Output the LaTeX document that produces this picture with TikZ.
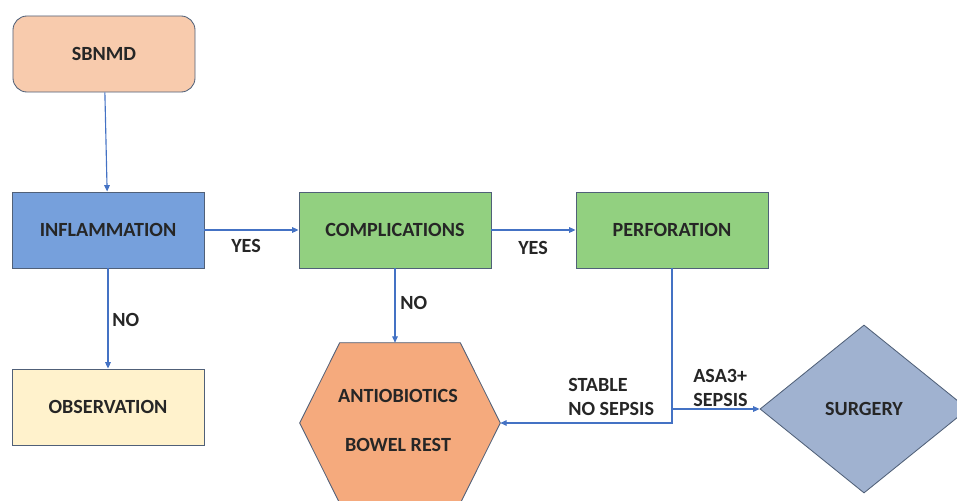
\documentclass[tikz,border=0pt]{standalone}
\usepackage{fontspec}
\setmainfont{Carlito}
\usepackage{tikz}
\usetikzlibrary{positioning,arrows.meta,shapes.geometric}
\usepackage{xcolor}

\definecolor{peach}{RGB}{248,203,173}
\definecolor{inflblue}{RGB}{118,160,220}
\definecolor{compgreen}{RGB}{146,208,128}
\definecolor{obscream}{RGB}{255,242,204}
\definecolor{hexorange}{RGB}{245,170,125}
\definecolor{surgblue}{RGB}{160,178,208}
\definecolor{linkblue}{RGB}{68,114,196}
\definecolor{edgegray}{RGB}{80,96,120}

\begin{document}
\begin{tikzpicture}[
    x=0.025cm, y=-0.025cm,
    every node/.style={font=\fontsize{14.3}{17}\selectfont\bfseries, text=black!85},
    box/.style={draw=edgegray, line width=0.6pt, minimum width=4.8cm, minimum height=1.9cm, align=center},
    arr/.style={-{Triangle[length=1.6mm,width=1.4mm]}, draw=linkblue, line width=0.8pt},
    lbl/.style={align=left, inner sep=0pt, anchor=west}
]
\useasboundingbox (0,0) rectangle (957,500);

\node[box, fill=peach, rounded corners=10pt, minimum width=4.55cm] (sbnmd) at (104,54) {SBNMD};

\node[box, fill=inflblue] (infl) at (108,230) {INFLAMMATION};
\node[box, fill=compgreen] (comp) at (395,230) {COMPLICATIONS};
\node[box, fill=compgreen] (perf) at (672,230) {PERFORATION};
\node[box, fill=obscream] (obs) at (108,407) {OBSERVATION};

% hexagon drawn around an empty frame node
\node[minimum width=5cm, minimum height=4cm, inner sep=0pt] (abx) at (400,423) {};
\draw[edgegray, line width=0.6pt, fill=hexorange]
    (abx.west) -- ([xshift=1cm]abx.north west) -- ([xshift=-1cm]abx.north east)
    -- (abx.east) -- ([xshift=-1cm]abx.south east) -- ([xshift=1cm]abx.south west) -- cycle;
\node (abxtop) at (398,396) {ANTIOBIOTICS};
\node (abxbot) at (398,445) {BOWEL REST};

\node[diamond, draw=edgegray, line width=0.6pt, fill=surgblue, minimum width=5.2cm, minimum height=4.2cm, inner sep=0pt] (surg) at (864,409) {SURGERY};

\draw[arr] (sbnmd) -- (infl);
\draw[arr] (infl) -- (comp);
\draw[arr] (comp) -- (perf);
\draw[arr] (infl) -- (obs);
\draw[arr] (comp.south) -- (comp.south |- abx.north);
\draw[arr] (perf.south) |- (abx.east);
\draw[arr] (perf.south |- surg.west) -- (surg.west);

\node[lbl] (yes1) at (231,246) {YES};
\node[lbl] (yes2) at (518,248) {YES};
\node[lbl] (no1) at (112,320) {NO};
\node[lbl] (no2) at (400,303) {NO};
\node[lbl] (stable) at (568,397) {STABLE\\NO SEPSIS};
\node[lbl] (asa) at (693,388) {ASA3+\\SEPSIS};

\end{tikzpicture}
\end{document}
